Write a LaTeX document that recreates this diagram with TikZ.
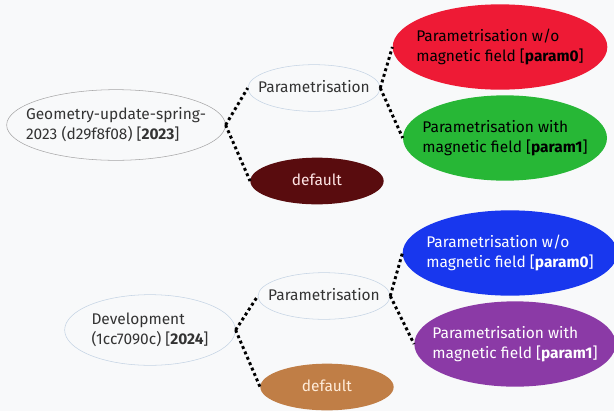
\documentclass[tikz,border=0pt]{standalone}
\usepackage{fontspec}
\setmainfont{Fira Sans}
\usetikzlibrary{shapes.geometric}
\definecolor{fundo}{HTML}{F8F9FA}
\definecolor{texto}{HTML}{333333}
\definecolor{vermelho}{HTML}{EE1A35}
\definecolor{verde}{HTML}{27B736}
\definecolor{azul}{HTML}{1837EE}
\definecolor{roxo}{HTML}{8B3AA6}
\definecolor{vinho}{HTML}{590C0E}
\definecolor{laranja}{HTML}{C07E46}
\definecolor{contorno}{HTML}{C4D3E4}
% texto sem largura, para a elipse ficar com o tamanho minimo
\newcommand{\rotulo}[1]{\makebox[0pt]{\begin{tabular}{@{}l@{}}#1\end{tabular}}}
\begin{document}
\begin{tikzpicture}[
                x=0.75pt, y=-0.75pt,
                font=\fontsize{11.6}{15}\selectfont,
                tag/.style={shape=ellipse, inner sep=0pt, text=texto, fill=fundo},
                versao/.style={tag, draw=black!35, minimum height=53pt},
                ramo/.style={tag, draw=contorno, minimum width=99pt, minimum height=35pt},
                variante/.style={tag, minimum width=161pt, minimum height=64pt},
                padrao/.style={tag, minimum width=100pt, minimum height=35pt},
                ligacao/.style={line width=2.2pt, dash pattern=on 2.2pt off 2.2pt},
            ]
            \useasboundingbox[fill=fundo] (0, 0) rectangle (614, 411);

            % 2023
            \node[versao, minimum width=164pt] (geo) at (116, 125) {\rotulo{Geometry-update-spring-\\2023 (d29f8f08) [\textbf{2023}]}};
            \node[ramo] (par23) at (314, 88) {\rotulo{Parametrisation}};
            \node[padrao, fill=vinho, text=red!10!white] (def23) at (317, 181) {\rotulo{default}};
            \node[variante, fill=vermelho, text=black] (p023) at (500, 47) {\rotulo{Parametrisation w/o\\magnetic field [\textbf{param0}]}};
            \node[variante, fill=verde, text=black, minimum width=153pt] (p123) at (505, 138) {\rotulo{Parametrisation with\\magnetic field [\textbf{param1}]}};

            % 2024
            \node[versao, draw=contorno, minimum width=128pt] (dev) at (150, 330) {\rotulo{Development\\(1cc7090c) [\textbf{2024}]}};
            \node[ramo] (par24) at (324, 296) {\rotulo{Parametrisation}};
            \node[padrao, fill=laranja, text=orange!15!white] (def24) at (327, 387) {\rotulo{default}};
            \node[variante, fill=azul, text=white] (p024) at (510, 253) {\rotulo{Parametrisation w/o\\magnetic field [\textbf{param0}]}};
            \node[variante, fill=roxo, text=white, minimum width=151pt] (p124) at (515, 344) {\rotulo{Parametrisation with\\magnetic field [\textbf{param1}]}};

            \draw[ligacao] (geo.east) -- (par23.west);
            \draw[ligacao] (geo.east) -- (def23.west);
            \draw[ligacao] (par23.east) -- (p023.west);
            \draw[ligacao] (par23.east) -- (p123.west);
            \draw[ligacao] (dev.east) -- (par24.west);
            \draw[ligacao] (dev.east) -- (def24.west);
            \draw[ligacao] (par24.east) -- (p024.west);
            \draw[ligacao] (par24.east) -- (p124.west);
        \end{tikzpicture}
\end{document}
